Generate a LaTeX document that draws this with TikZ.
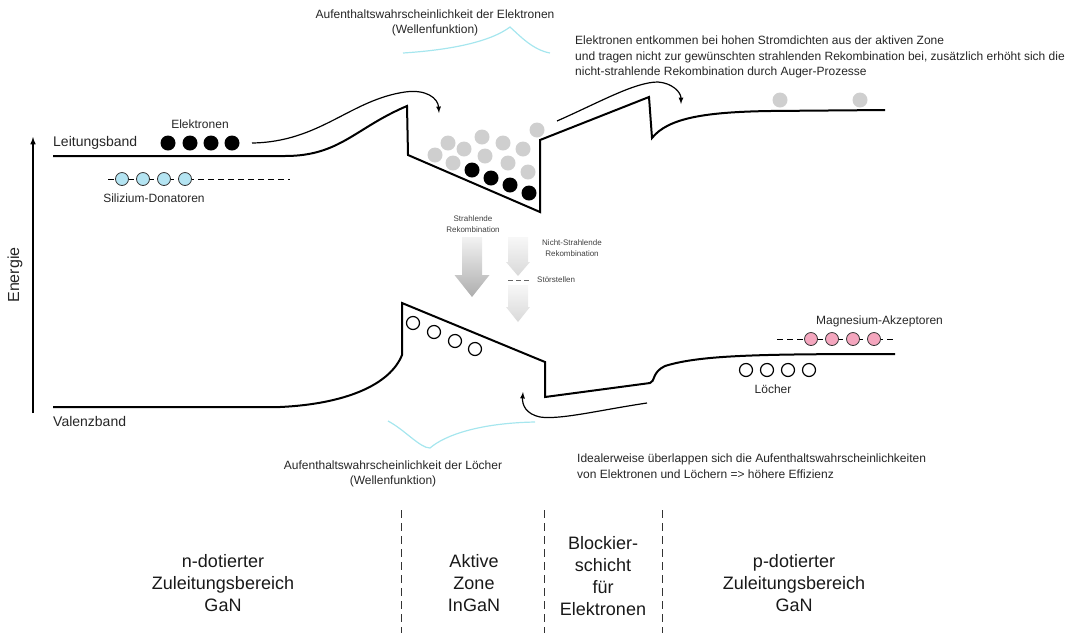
\documentclass[tikz,border=0pt]{standalone}
\usepackage{fontspec}
\setmainfont{Liberation Sans}
\usetikzlibrary{arrows,positioning}

\definecolor{wellcyan}{HTML}{A6E6EE}
\definecolor{donblue}{HTML}{B4E4F2}
\definecolor{akzpink}{HTML}{F4A6BE}
\definecolor{elgray}{HTML}{CFCFCF}

% shaded arrow pointing down: x, top, head start, tip, half shaft, half head, top colour, bottom colour
\newcommand{\recarrow}[8]{%
  \shade[top color=#7,bottom color=#8]
    (#1-#5,#2) -- (#1+#5,#2) -- (#1+#5,#3) -- (#1+#6,#3) -- (#1,#4)
    -- (#1-#6,#3) -- (#1-#5,#3) -- cycle;}

\begin{document}
\begin{tikzpicture}[x=1pt,y=-1pt,
band/.style={line width=2pt,line join=miter},
el/.style={circle,fill=black,minimum size=15pt,inner sep=0pt},
gel/.style={circle,fill=elgray,minimum size=15pt,inner sep=0pt},
hole/.style={circle,draw=black,line width=1.2pt,fill=white,minimum size=13pt,inner sep=0pt},
don/.style={circle,draw=black!80,line width=0.8pt,fill=donblue,minimum size=13pt,inner sep=0pt},
akz/.style={circle,draw=black!80,line width=0.8pt,fill=akzpink,minimum size=13pt,inner sep=0pt},
lbl/.style={font=\fontsize{12}{15.5}\selectfont,text=black!85,inner sep=0pt},
tiny/.style={font=\fontsize{8}{11}\selectfont,text=black!75,inner sep=0pt,align=center},
bandlbl/.style={font=\fontsize{14}{16}\selectfont,text=black!85,inner sep=0pt},
zone/.style={font=\fontsize{18}{22}\selectfont,text=black!90,inner sep=0pt,align=center},
wave/.style={draw=wellcyan,line width=1.2pt},
sep/.style={draw=black!80,line width=1pt,dash pattern=on 8pt off 5pt},
>=latex]

\useasboundingbox (0,0) rectangle (1078,633);

% energy axis
\coordinate (eb) at (33,413);
\coordinate (et) at (33,137);
\draw[->,line width=1.5pt] (eb) -- (et);
\node[font=\fontsize{16}{18}\selectfont,text=black!85,rotate=90] (energie) at (15,275) {Energie};

% conduction band
\draw[band] (53,156) -- (285,156) .. controls (340,156) and (355,128) .. (407,106)
  -- (408,155) -- (540,212) -- (540,140) -- (649,97) -- (652,138)
  .. controls (668,118) and (705,112) .. (770,111) -- (885,110);
\node[bandlbl,anchor=west] (lb) at (53,143) {Leitungsband};

% valence band
\draw[band] (53,407) -- (280,407) .. controls (345,404) and (390,385) .. (402,355)
  -- (402,303) -- (545,362) -- (545,397) -- (650,383)
  .. controls (655,382) and (652,372) .. (665,366)
  .. controls (700,355) and (760,354) .. (895,354);
\node[bandlbl,anchor=west] (vb) at (53,421) {Valenzband};

% electrons (n side)
\foreach \x [count=\i] in {168,190,211,232}
  \node[el] (e\i) at (\x,143) {};
\node[lbl] (elab) at (200,124) {Elektronen};

% donors
\coordinate (dl) at (108,179);
\coordinate (dr) at (290,179);
\draw[line width=1pt,dash pattern=on 6pt off 4pt] (dl) -- (dr);
\foreach \x [count=\i] in {122,143,164,185}
  \node[don] (d\i) at (\x,179) {};
\node[lbl] (dlab) at (154,198) {Silizium-Donatoren};

% electrons in the well
\foreach \x/\y [count=\i] in {435/155,448/143,453/163,464/149,482/137,485/156,503/143,
    508/163,523/149,528/172,537/130}
  \node[gel] (g\i) at (\x,\y) {};
\foreach \x/\y [count=\i] in {472/170,491/178,510/185,529/193}
  \node[el] (w\i) at (\x,\y) {};

% escaped electrons
\node[gel] (x1) at (780,100) {};
\node[gel] (x2) at (860,100) {};

% injection arrow
\coordinate (ia) at (252,143);
\coordinate (ib) at (439,113);
\draw[->,line width=1.2pt] (ia) .. controls (320,142) and (350,100) .. (405,92)
  .. controls (426,89) and (438,98) .. (ib);

% escape arrow
\coordinate (xa) at (557,121);
\coordinate (xb) at (681,104);
\draw[->,line width=1.2pt] (xa) .. controls (600,102) and (635,82) .. (658,82)
  .. controls (672,83) and (681,92) .. (xb);

% wave functions
\draw[wave] (403,53) .. controls (450,50) and (490,42) .. (510,27)
  .. controls (520,36) and (533,50) .. (550,53);
\node[lbl,align=center] (wel) at (435,23) {Aufenthaltswahrscheinlichkeit der Elektronen\\(Wellenfunktion)};
\draw[wave] (388,421) .. controls (405,430) and (420,448) .. (430,448)
  .. controls (445,435) and (480,423) .. (535,422);
\node[lbl,align=center] (wh) at (393,474) {Aufenthaltswahrscheinlichkeit der L\"ocher\\(Wellenfunktion)};

\node[lbl,align=left,anchor=west] (esc) at (575,57) {Elektronen entkommen bei hohen Stromdichten aus der aktiven Zone\\
und tragen nicht zur gew\"unschten strahlenden Rekombination bei, zus\"atzlich erh\"oht sich die\\
nicht-strahlende Rekombination durch Auger-Prozesse};

% recombination
\recarrow{472}{237}{275}{297}{10}{17.5}{black!5}{black!32}
\recarrow{518}{237}{262}{276}{10}{12}{black!3}{black!15}
\recarrow{518}{285}{307}{322}{10}{12}{black!3}{black!15}
\node[tiny] (rad) at (473,224) {Strahlende\\Rekombination};
\node[tiny] (nrad) at (572,248) {Nicht-Strahlende\\Rekombination};
\coordinate (sl) at (508,280);
\coordinate (sr) at (531,280);
\draw[black!60,line width=0.8pt,dash pattern=on 5pt off 3pt] (sl) -- (sr);
\node[tiny,anchor=west] (stoer) at (537,280) {St\"orstellen};

% holes in the well
\foreach \x/\y [count=\i] in {413/323,434/332,455/341,475/349}
  \node[hole] (h\i) at (\x,\y) {};

% hole arrow
\coordinate (ha) at (647,403);
\coordinate (hb) at (523,392);
\draw[->,line width=1.2pt] (ha) .. controls (600,410) and (560,420) .. (540,417)
  .. controls (526,414) and (522,405) .. (hb);

% acceptors and holes (p side)
\coordinate (al) at (777,339);
\coordinate (ar) at (893,339);
\draw[line width=1pt,dash pattern=on 6pt off 4pt] (al) -- (ar);
\foreach \x [count=\i] in {811,832,853,874}
  \node[akz] (a\i) at (\x,339) {};
\node[lbl,anchor=west] (alab) at (816,321) {Magnesium-Akzeptoren};
\foreach \x [count=\i] in {746,767,788,809}
  \node[hole] (p\i) at (\x,370) {};
\node[lbl] (plab) at (773,389) {L\"ocher};

\node[lbl,align=left,anchor=west] (ideal) at (577,466) {Idealerweise \"uberlappen sich die Aufenthaltswahrscheinlichkeiten\\
von Elektronen und L\"ochern => h\"ohere Effizienz};

% regions
\foreach \x [count=\i] in {401,544,662}
{
  \coordinate (s\i t) at (\x,510);
  \coordinate (s\i b) at (\x,633);
  \draw[sep] (s\i t) -- (s\i b);
}
\node[zone] (nz) at (223,583) {n-dotierter\\Zuleitungsbereich\\GaN};
\node[zone] (az) at (474,583) {Aktive\\Zone\\InGaN};
\node[zone] (bz) at (603,576) {Blockier-\\schicht\\f\"ur\\Elektronen};
\node[zone] (pz) at (794,583) {p-dotierter\\Zuleitungsbereich\\GaN};
\end{tikzpicture}
\end{document}
